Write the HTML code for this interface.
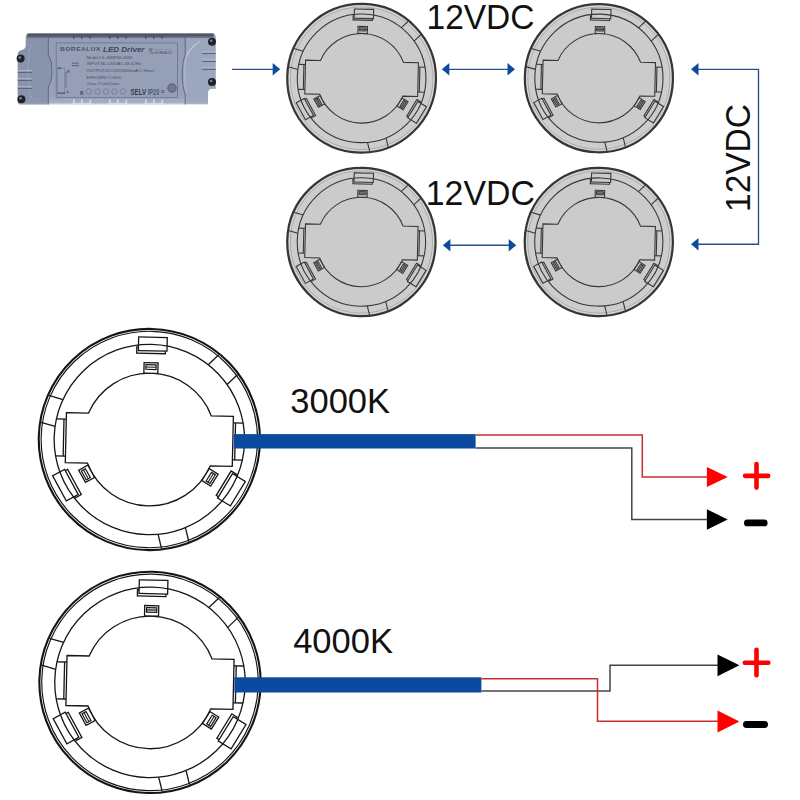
<!DOCTYPE html>
<html><head><meta charset="utf-8"><title>LED puck wiring</title>
<style>
html,body{margin:0;padding:0;background:#fff;width:800px;height:800px;overflow:hidden}
svg{display:block}
text{font-family:"Liberation Sans",sans-serif}
</style></head><body>
<svg width="800" height="800" viewBox="0 0 800 800">
<g>
<defs>
<linearGradient id="dg" x1="0" y1="0" x2="0" y2="1">
<stop offset="0" stop-color="#6f7a90"/>
<stop offset="0.07" stop-color="#929cb4"/>
<stop offset="0.9" stop-color="#98a2ba"/>
<stop offset="1" stop-color="#aab5cc"/>
</linearGradient>
</defs>
<path d="M29 33.6 H212 Q215.6 33.6 215.6 37.5 V88.8 H212 Q208 88.8 208 93 V104.2 H20.5 Q17.8 104.2 17.8 101.5 V54 Q17.8 51.6 20 50.8 L23.8 49.2 Q25.8 48.2 25.8 45.5 V37.8 Q25.8 33.6 29 33.6 Z" fill="url(#dg)"/>
<path d="M20 103.6 H207.5" stroke="#c5cce0" stroke-width="1.2" opacity="0.8"/>
<path d="M25.8 37.8 V45.5 Q25.8 48.2 23.8 49.2 L20 50.8 Q17.8 51.6 17.8 54 V101.8 Q17.8 104.6 20.5 104.6 H48.3 V87 C53.2 80 53.2 62 48.3 55 V35 H29 Q25.8 35 25.8 37.8 Z" fill="#838ea6" opacity="0.7"/>
<path d="M185.2 35 V55 C181.3 63 181.3 86 185.2 94 V104 H208 V93 Q208 88.8 212 88.8 H215.6 V37.5 Q215.6 35 212 35 Z" fill="#9ea8bf" opacity="0.75"/>
<path d="M27.5 35.2 H213.5" stroke="#4f5563" stroke-width="3.2" opacity="0.95"/>
<path d="M27.5 37.4 H213.5" stroke="#626a7b" stroke-width="1.2" opacity="0.8"/>
<path d="M48.3 35 V55 C53.2 62 53.2 80 48.3 87 V104.5" fill="none" stroke="#5a6478" stroke-width="0.9"/>
<path d="M185.2 35 V55 C181.3 63 181.3 86 185.2 94 V104.5" fill="none" stroke="#5a6478" stroke-width="0.9"/>
<path d="M31 44 C27 60 27 90 33 101" fill="none" stroke="#9ba7c0" stroke-width="0.8"/>
<path d="M199.5 41.5 C193 46 187.5 52 186.3 57" fill="none" stroke="#c3cadb" stroke-width="1.1"/>
<path d="M186.8 56 C184 64 184 84 187 93" fill="none" stroke="#b4bdd2" stroke-width="0.9"/>
<rect x="56.2" y="43" width="121.3" height="54.5" fill="#959fb6" stroke="#6f7890" stroke-width="0.9"/>
<g stroke="#aab4ca" stroke-width="1.4">
<path d="M17.8 70.6 H32 M17.8 78.6 H32 M17.8 86.6 H32"/>
<path d="M202.4 51.6 H215.6 M202.4 59.5 H215.6 M202.4 67.4 H215.6"/>
</g>
<g stroke="#58627a" stroke-width="1">
<path d="M17.8 72.4 H32 M17.8 80.4 H32 M17.8 88.4 H32"/>
<path d="M202.4 53.6 H215.6 M202.4 61.5 H215.6 M202.4 69.4 H215.6"/>
</g>
<g fill="#485166">
<rect x="72" y="35" width="19.5" height="1.2"/><rect x="73" y="35" width="1.3" height="4"/><rect x="81" y="35" width="1.3" height="4"/><rect x="89.5" y="35" width="1.3" height="4"/>
<rect x="108" y="35" width="19.5" height="1.2"/><rect x="109" y="35" width="1.3" height="4"/><rect x="117" y="35" width="1.3" height="4"/><rect x="125.5" y="35" width="1.3" height="4"/>
<rect x="144" y="35" width="19.5" height="1.2"/><rect x="145" y="35" width="1.3" height="4"/><rect x="153" y="35" width="1.3" height="4"/><rect x="161.5" y="35" width="1.3" height="4"/>
</g>
<g fill="#d5dbe8">
<rect x="72" y="103" width="19.5" height="1.6"/><rect x="73" y="99.5" width="1.6" height="5"/><rect x="81" y="99.5" width="1.6" height="5"/><rect x="89.5" y="99.5" width="1.6" height="5"/>
<rect x="108" y="103" width="19.5" height="1.6"/><rect x="109" y="99.5" width="1.6" height="5"/><rect x="117" y="99.5" width="1.6" height="5"/><rect x="125.5" y="99.5" width="1.6" height="5"/>
<rect x="144" y="103" width="19.5" height="1.6"/><rect x="145" y="99.5" width="1.6" height="5"/><rect x="153" y="99.5" width="1.6" height="5"/><rect x="161.5" y="99.5" width="1.6" height="5"/>
</g>
<g fill="#1f2228">
<circle cx="20.6" cy="58.6" r="4"/><circle cx="21.4" cy="99.3" r="4"/>
<circle cx="212" cy="41.8" r="4"/><circle cx="212" cy="82" r="4"/>
</g>
<g fill="#7d8290">
<circle cx="19.8" cy="57.6" r="1.3"/><circle cx="20.6" cy="98.3" r="1.3"/>
<circle cx="211.2" cy="40.8" r="1.3"/><circle cx="211.2" cy="81" r="1.3"/>
</g>
<g font-family="Liberation Sans, sans-serif" fill="#3d455a">
<text x="60" y="51.2" font-size="5.5" font-weight="bold" textLength="41" lengthAdjust="spacingAndGlyphs" letter-spacing="0.5" fill="#4a5268">BOREALUX</text>
<text x="103" y="51.5" font-size="7.6" font-weight="bold" font-style="italic" textLength="41.5" lengthAdjust="spacingAndGlyphs">LED Driver</text>
</g>
<g font-family="Liberation Sans, sans-serif" fill="#454e65" font-size="4.4">
<text x="86.5" y="59" textLength="45.5" lengthAdjust="spacingAndGlyphs">Model:LS-JSMP60-40W</text>
<text x="86.5" y="65" textLength="55" lengthAdjust="spacingAndGlyphs">INPUT:90-130VAC   48-62Hz</text>
<text x="86.5" y="72" textLength="67.5" lengthAdjust="spacingAndGlyphs">OUTPUT:DC12V/3000mA     C Hinet</text>
<text x="86.5" y="78.5" textLength="35" lengthAdjust="spacingAndGlyphs">EFFICIENCY&gt;85%</text>
<text x="86.5" y="84.6" textLength="33" lengthAdjust="spacingAndGlyphs">Class 2 Led Driver</text>
<text x="149" y="50.8" font-size="3" textLength="22" lengthAdjust="spacingAndGlyphs">M~~~~ ~~~</text>
<text x="149" y="53.8" font-size="3" textLength="23" lengthAdjust="spacingAndGlyphs">The BOREALUX</text>
</g>
<g fill="#5d667c">
<rect x="72" y="62.6" width="6.7" height="1.1"/><rect x="72" y="65" width="6.7" height="1.1"/>
<rect x="57.5" y="68" width="7" height="25.5" fill="#97a2ba" stroke="#6b7590" stroke-width="0.5"/>
<rect x="57.5" y="67.6" width="4" height="1.2" fill="#4d5263"/>
<rect x="57.5" y="92.5" width="8" height="1.2" fill="#4d5263"/>
<rect x="65.6" y="72" width="0.8" height="16"/>
</g>
<g font-family="Liberation Sans, sans-serif" fill="#3d455a">
<text x="67" y="72.8" font-size="3.6" font-weight="bold">H</text>
<text x="67" y="92.5" font-size="3.6" font-weight="bold">L</text>
<text x="80" y="94.6" font-size="5.5" font-weight="bold">K</text>
<text x="130.5" y="94.5" font-size="9.4" font-weight="bold" textLength="15.5" lengthAdjust="spacingAndGlyphs" fill="#353c50">SELV</text>
<text x="147.8" y="94.5" font-size="9.2" font-weight="bold" textLength="11.5" lengthAdjust="spacingAndGlyphs" fill="#4f586e">IP20</text>
<text x="160.5" y="94.3" font-size="7" font-weight="bold" fill="#3d455a">&#8801;</text>
</g>
<g fill="none" stroke="#6f7a92" stroke-width="0.8">
<circle cx="89" cy="91.5" r="2.7"/><circle cx="97.5" cy="91.5" r="2.7"/><circle cx="106" cy="91.5" r="2.7"/><circle cx="114.5" cy="91.5" r="2.7"/><circle cx="123" cy="91.5" r="2.7"/>
</g>
<circle cx="172" cy="88" r="4.2" fill="#6f7a92" stroke="#4d566c" stroke-width="0.9"/>
</g>
<g transform="translate(361.6 78.3) scale(0.6760) rotate(1.3)" stroke="#363636" stroke-width="1.6" fill="#cbcbcb" stroke-linejoin="miter">
<circle r="110" fill="#cdcdcd" stroke-width="3.3"/>
<circle r="106.9" fill="none" stroke="#dadada" stroke-width="1.4"/>
<circle r="105.6" fill="none" stroke="#9a9a9a" stroke-width="1.0"/>
<line x1="57.16" y1="-76.13" x2="67.46" y2="-86.38"/>
<line x1="76.43" y1="-56.76" x2="86.73" y2="-67.01"/>
<line x1="38.04" y1="87.27" x2="41.81" y2="101.31"/>
<line x1="10.86" y1="94.58" x2="14.63" y2="108.62"/>
<line x1="-94.57" y1="-10.94" x2="-108.61" y2="-14.72"/>
<line x1="-87.3" y1="-37.96" x2="-101.34" y2="-41.74"/>
<circle r="95.2" fill="#cbcbcb" stroke="none"/>
<g transform="rotate(0)"><rect x="-14.6" y="-92.3" width="28.6" height="6.2"/><rect x="-13" y="-102.3" width="28.6" height="13.6"/></g>
<g transform="rotate(240.2)"><rect x="-15.9" y="-92.3" width="28.6" height="6.2"/><rect x="-14.3" y="-102.3" width="28.6" height="13.6"/></g>
<g transform="rotate(120.2)"><rect x="-15.9" y="-92.4" width="28.6" height="6.2"/><rect x="-14.3" y="-103.8" width="28.6" height="15"/></g>
<circle r="95.2" fill="none"/>
<path d="M-93.39 -18.5 L-83.5 -18.5 M-93.39 18.5 L-83.5 18.5" fill="none"/>
<line x1="-85.8" y1="-18.5" x2="-85.8" y2="18.5"/>
<path d="M93.39 -18.5 L83.5 -18.5 M93.39 18.5 L83.5 18.5" fill="none"/>
<line x1="85.8" y1="-18.5" x2="85.8" y2="18.5"/>
<path d="M-83.5 -25 L-61.41 -25 A66.3 66.3 0 0 1 61.41 -25 L83.5 -25 L83.5 25 L61.41 25 A66.3 66.3 0 0 1 -61.41 25 L-83.5 25 Z"/>
<g transform="rotate(0)">
<rect x="-7" y="-76.7" width="14" height="10.4"/>
<rect x="-5.1" y="-74.7" width="10.2" height="4.6" stroke-width="1.44" fill="#9a9a9a"/>
<line x1="-5.1" y1="-72.4" x2="5.1" y2="-72.4" stroke-width="1.28"/>
</g>
<g transform="rotate(240)">
<rect x="-7" y="-76.7" width="14" height="10.4"/>
<rect x="-5.1" y="-74.7" width="10.2" height="4.6" stroke-width="1.44" fill="#9a9a9a"/>
<line x1="-5.1" y1="-72.4" x2="5.1" y2="-72.4" stroke-width="1.28"/>
</g>
<g transform="rotate(120.7)">
<rect x="-7" y="-76.7" width="14" height="10.4"/>
<rect x="-5.1" y="-74.7" width="10.2" height="4.6" stroke-width="1.44" fill="#9a9a9a"/>
<line x1="-5.1" y1="-72.4" x2="5.1" y2="-72.4" stroke-width="1.28"/>
</g>
</g>
<g transform="translate(598.9 78.2) scale(0.6733) rotate(1.3)" stroke="#363636" stroke-width="1.6" fill="#cbcbcb" stroke-linejoin="miter">
<circle r="110" fill="#cdcdcd" stroke-width="3.3"/>
<circle r="106.9" fill="none" stroke="#dadada" stroke-width="1.4"/>
<circle r="105.6" fill="none" stroke="#9a9a9a" stroke-width="1.0"/>
<line x1="57.16" y1="-76.13" x2="67.46" y2="-86.38"/>
<line x1="76.43" y1="-56.76" x2="86.73" y2="-67.01"/>
<line x1="38.04" y1="87.27" x2="41.81" y2="101.31"/>
<line x1="10.86" y1="94.58" x2="14.63" y2="108.62"/>
<line x1="-94.57" y1="-10.94" x2="-108.61" y2="-14.72"/>
<line x1="-87.3" y1="-37.96" x2="-101.34" y2="-41.74"/>
<circle r="95.2" fill="#cbcbcb" stroke="none"/>
<g transform="rotate(0)"><rect x="-14.6" y="-92.3" width="28.6" height="6.2"/><rect x="-13" y="-102.3" width="28.6" height="13.6"/></g>
<g transform="rotate(240.2)"><rect x="-15.9" y="-92.3" width="28.6" height="6.2"/><rect x="-14.3" y="-102.3" width="28.6" height="13.6"/></g>
<g transform="rotate(120.2)"><rect x="-15.9" y="-92.4" width="28.6" height="6.2"/><rect x="-14.3" y="-103.8" width="28.6" height="15"/></g>
<circle r="95.2" fill="none"/>
<path d="M-93.39 -18.5 L-83.5 -18.5 M-93.39 18.5 L-83.5 18.5" fill="none"/>
<line x1="-85.8" y1="-18.5" x2="-85.8" y2="18.5"/>
<path d="M93.39 -18.5 L83.5 -18.5 M93.39 18.5 L83.5 18.5" fill="none"/>
<line x1="85.8" y1="-18.5" x2="85.8" y2="18.5"/>
<path d="M-83.5 -25 L-61.41 -25 A66.3 66.3 0 0 1 61.41 -25 L83.5 -25 L83.5 25 L61.41 25 A66.3 66.3 0 0 1 -61.41 25 L-83.5 25 Z"/>
<g transform="rotate(0)">
<rect x="-7" y="-76.7" width="14" height="10.4"/>
<rect x="-5.1" y="-74.7" width="10.2" height="4.6" stroke-width="1.44" fill="#9a9a9a"/>
<line x1="-5.1" y1="-72.4" x2="5.1" y2="-72.4" stroke-width="1.28"/>
</g>
<g transform="rotate(240)">
<rect x="-7" y="-76.7" width="14" height="10.4"/>
<rect x="-5.1" y="-74.7" width="10.2" height="4.6" stroke-width="1.44" fill="#9a9a9a"/>
<line x1="-5.1" y1="-72.4" x2="5.1" y2="-72.4" stroke-width="1.28"/>
</g>
<g transform="rotate(120.7)">
<rect x="-7" y="-76.7" width="14" height="10.4"/>
<rect x="-5.1" y="-74.7" width="10.2" height="4.6" stroke-width="1.44" fill="#9a9a9a"/>
<line x1="-5.1" y1="-72.4" x2="5.1" y2="-72.4" stroke-width="1.28"/>
</g>
</g>
<g transform="translate(361.4 242) scale(0.6742) rotate(1.3)" stroke="#363636" stroke-width="1.6" fill="#cbcbcb" stroke-linejoin="miter">
<circle r="110" fill="#cdcdcd" stroke-width="3.3"/>
<circle r="106.9" fill="none" stroke="#dadada" stroke-width="1.4"/>
<circle r="105.6" fill="none" stroke="#9a9a9a" stroke-width="1.0"/>
<line x1="57.16" y1="-76.13" x2="67.46" y2="-86.38"/>
<line x1="76.43" y1="-56.76" x2="86.73" y2="-67.01"/>
<line x1="38.04" y1="87.27" x2="41.81" y2="101.31"/>
<line x1="10.86" y1="94.58" x2="14.63" y2="108.62"/>
<line x1="-94.57" y1="-10.94" x2="-108.61" y2="-14.72"/>
<line x1="-87.3" y1="-37.96" x2="-101.34" y2="-41.74"/>
<circle r="95.2" fill="#cbcbcb" stroke="none"/>
<g transform="rotate(0)"><rect x="-14.6" y="-92.3" width="28.6" height="6.2"/><rect x="-13" y="-102.3" width="28.6" height="13.6"/></g>
<g transform="rotate(240.2)"><rect x="-15.9" y="-92.3" width="28.6" height="6.2"/><rect x="-14.3" y="-102.3" width="28.6" height="13.6"/></g>
<g transform="rotate(120.2)"><rect x="-15.9" y="-92.4" width="28.6" height="6.2"/><rect x="-14.3" y="-103.8" width="28.6" height="15"/></g>
<circle r="95.2" fill="none"/>
<path d="M-93.39 -18.5 L-83.5 -18.5 M-93.39 18.5 L-83.5 18.5" fill="none"/>
<line x1="-85.8" y1="-18.5" x2="-85.8" y2="18.5"/>
<path d="M93.39 -18.5 L83.5 -18.5 M93.39 18.5 L83.5 18.5" fill="none"/>
<line x1="85.8" y1="-18.5" x2="85.8" y2="18.5"/>
<path d="M-83.5 -25 L-61.41 -25 A66.3 66.3 0 0 1 61.41 -25 L83.5 -25 L83.5 25 L61.41 25 A66.3 66.3 0 0 1 -61.41 25 L-83.5 25 Z"/>
<g transform="rotate(0)">
<rect x="-7" y="-76.7" width="14" height="10.4"/>
<rect x="-5.1" y="-74.7" width="10.2" height="4.6" stroke-width="1.44" fill="#9a9a9a"/>
<line x1="-5.1" y1="-72.4" x2="5.1" y2="-72.4" stroke-width="1.28"/>
</g>
<g transform="rotate(240)">
<rect x="-7" y="-76.7" width="14" height="10.4"/>
<rect x="-5.1" y="-74.7" width="10.2" height="4.6" stroke-width="1.44" fill="#9a9a9a"/>
<line x1="-5.1" y1="-72.4" x2="5.1" y2="-72.4" stroke-width="1.28"/>
</g>
<g transform="rotate(120.7)">
<rect x="-7" y="-76.7" width="14" height="10.4"/>
<rect x="-5.1" y="-74.7" width="10.2" height="4.6" stroke-width="1.44" fill="#9a9a9a"/>
<line x1="-5.1" y1="-72.4" x2="5.1" y2="-72.4" stroke-width="1.28"/>
</g>
</g>
<g transform="translate(598.8 242) scale(0.6733) rotate(1.3)" stroke="#363636" stroke-width="1.6" fill="#cbcbcb" stroke-linejoin="miter">
<circle r="110" fill="#cdcdcd" stroke-width="3.3"/>
<circle r="106.9" fill="none" stroke="#dadada" stroke-width="1.4"/>
<circle r="105.6" fill="none" stroke="#9a9a9a" stroke-width="1.0"/>
<line x1="57.16" y1="-76.13" x2="67.46" y2="-86.38"/>
<line x1="76.43" y1="-56.76" x2="86.73" y2="-67.01"/>
<line x1="38.04" y1="87.27" x2="41.81" y2="101.31"/>
<line x1="10.86" y1="94.58" x2="14.63" y2="108.62"/>
<line x1="-94.57" y1="-10.94" x2="-108.61" y2="-14.72"/>
<line x1="-87.3" y1="-37.96" x2="-101.34" y2="-41.74"/>
<circle r="95.2" fill="#cbcbcb" stroke="none"/>
<g transform="rotate(0)"><rect x="-14.6" y="-92.3" width="28.6" height="6.2"/><rect x="-13" y="-102.3" width="28.6" height="13.6"/></g>
<g transform="rotate(240.2)"><rect x="-15.9" y="-92.3" width="28.6" height="6.2"/><rect x="-14.3" y="-102.3" width="28.6" height="13.6"/></g>
<g transform="rotate(120.2)"><rect x="-15.9" y="-92.4" width="28.6" height="6.2"/><rect x="-14.3" y="-103.8" width="28.6" height="15"/></g>
<circle r="95.2" fill="none"/>
<path d="M-93.39 -18.5 L-83.5 -18.5 M-93.39 18.5 L-83.5 18.5" fill="none"/>
<line x1="-85.8" y1="-18.5" x2="-85.8" y2="18.5"/>
<path d="M93.39 -18.5 L83.5 -18.5 M93.39 18.5 L83.5 18.5" fill="none"/>
<line x1="85.8" y1="-18.5" x2="85.8" y2="18.5"/>
<path d="M-83.5 -25 L-61.41 -25 A66.3 66.3 0 0 1 61.41 -25 L83.5 -25 L83.5 25 L61.41 25 A66.3 66.3 0 0 1 -61.41 25 L-83.5 25 Z"/>
<g transform="rotate(0)">
<rect x="-7" y="-76.7" width="14" height="10.4"/>
<rect x="-5.1" y="-74.7" width="10.2" height="4.6" stroke-width="1.44" fill="#9a9a9a"/>
<line x1="-5.1" y1="-72.4" x2="5.1" y2="-72.4" stroke-width="1.28"/>
</g>
<g transform="rotate(240)">
<rect x="-7" y="-76.7" width="14" height="10.4"/>
<rect x="-5.1" y="-74.7" width="10.2" height="4.6" stroke-width="1.44" fill="#9a9a9a"/>
<line x1="-5.1" y1="-72.4" x2="5.1" y2="-72.4" stroke-width="1.28"/>
</g>
<g transform="rotate(120.7)">
<rect x="-7" y="-76.7" width="14" height="10.4"/>
<rect x="-5.1" y="-74.7" width="10.2" height="4.6" stroke-width="1.44" fill="#9a9a9a"/>
<line x1="-5.1" y1="-72.4" x2="5.1" y2="-72.4" stroke-width="1.28"/>
</g>
</g>
<g stroke="#2c4f8a" stroke-width="1.35" fill="none">
<line x1="232" y1="69.3" x2="273" y2="69.3"/>
<line x1="448" y1="69.3" x2="508" y2="69.3"/>
<line x1="449" y1="245.2" x2="509" y2="245.2"/>
<path d="M697 69.3 H758.5 V244.2 H697"/>
</g>
<path d="M280.2 69.3 L272.7 63 L272.7 75.6 Z" fill="#0c4a9c"/>
<path d="M441.8 69.3 L449.3 63 L449.3 75.6 Z" fill="#0c4a9c"/>
<path d="M515 69.3 L507.5 63 L507.5 75.6 Z" fill="#0c4a9c"/>
<path d="M442.9 245.2 L450.4 238.9 L450.4 251.5 Z" fill="#0c4a9c"/>
<path d="M516.2 245.2 L508.7 238.9 L508.7 251.5 Z" fill="#0c4a9c"/>
<path d="M691 69.3 L698.5 63 L698.5 75.6 Z" fill="#0c4a9c"/>
<path d="M691 244.2 L698.5 237.9 L698.5 250.5 Z" fill="#0c4a9c"/>
<g font-family="Liberation Sans, sans-serif" fill="#111">
<text x="426.5" y="29.2" font-size="34.5" textLength="108" lengthAdjust="spacingAndGlyphs">12VDC</text>
<text x="425.8" y="205.2" font-size="34.5" textLength="109" lengthAdjust="spacingAndGlyphs">12VDC</text>
<text transform="translate(749.7 212) rotate(-90)" x="0" y="0" font-size="34.5" textLength="108" lengthAdjust="spacingAndGlyphs">12VDC</text>
</g>
<g transform="translate(149.35 439.5) scale(1.0000) rotate(1.3)" stroke="#151515" stroke-width="1.3" fill="#ffffff" stroke-linejoin="miter">
<circle r="110.6" fill="#ffffff" stroke-width="2.1"/>
<circle r="108.2" fill="none" stroke-width="1.15"/>
<line x1="57.16" y1="-76.13" x2="67.46" y2="-86.38"/>
<line x1="76.43" y1="-56.76" x2="86.73" y2="-67.01"/>
<line x1="38.04" y1="87.27" x2="41.81" y2="101.31"/>
<line x1="10.86" y1="94.58" x2="14.63" y2="108.62"/>
<line x1="-94.57" y1="-10.94" x2="-108.61" y2="-14.72"/>
<line x1="-87.3" y1="-37.96" x2="-101.34" y2="-41.74"/>
<circle r="95.2" fill="#ffffff" stroke="none"/>
<g transform="rotate(0)"><rect x="-14.6" y="-92.3" width="28.6" height="6.2"/><rect x="-13" y="-102.3" width="28.6" height="13.6"/></g>
<g transform="rotate(240.2)"><rect x="-15.9" y="-92.3" width="28.6" height="6.2"/><rect x="-14.3" y="-102.3" width="28.6" height="13.6"/></g>
<g transform="rotate(120.2)"><rect x="-15.9" y="-92.4" width="28.6" height="6.2"/><rect x="-14.3" y="-103.8" width="28.6" height="15"/></g>
<circle r="95.2" fill="none"/>
<path d="M-93.39 -18.5 L-83.5 -18.5 M-93.39 18.5 L-83.5 18.5" fill="none"/>
<line x1="-85.8" y1="-18.5" x2="-85.8" y2="18.5"/>
<path d="M93.39 -18.5 L83.5 -18.5 M93.39 18.5 L83.5 18.5" fill="none"/>
<line x1="85.8" y1="-18.5" x2="85.8" y2="18.5"/>
<path d="M-83.5 -25 L-61.41 -25 A66.3 66.3 0 0 1 61.41 -25 L83.5 -25 L83.5 25 L61.41 25 A66.3 66.3 0 0 1 -61.41 25 L-83.5 25 Z"/>
<g transform="rotate(0)">
<rect x="-7" y="-76.7" width="14" height="10.4"/>
<rect x="-5.1" y="-74.7" width="10.2" height="4.6" stroke-width="1.17" fill="#fff"/>
<line x1="-5.1" y1="-72.4" x2="5.1" y2="-72.4" stroke-width="1.04"/>
</g>
<g transform="rotate(240)">
<rect x="-7" y="-76.7" width="14" height="10.4"/>
<rect x="-5.1" y="-74.7" width="10.2" height="4.6" stroke-width="1.17" fill="#fff"/>
<line x1="-5.1" y1="-72.4" x2="5.1" y2="-72.4" stroke-width="1.04"/>
</g>
<g transform="rotate(120.7)">
<rect x="-7" y="-76.7" width="14" height="10.4"/>
<rect x="-5.1" y="-74.7" width="10.2" height="4.6" stroke-width="1.17" fill="#fff"/>
<line x1="-5.1" y1="-72.4" x2="5.1" y2="-72.4" stroke-width="1.04"/>
</g>
</g>
<g transform="translate(150 682.4) scale(1.0004) rotate(1.3)" stroke="#151515" stroke-width="1.3" fill="#ffffff" stroke-linejoin="miter">
<circle r="110.6" fill="#ffffff" stroke-width="2.1"/>
<circle r="108.2" fill="none" stroke-width="1.15"/>
<line x1="57.16" y1="-76.13" x2="67.46" y2="-86.38"/>
<line x1="76.43" y1="-56.76" x2="86.73" y2="-67.01"/>
<line x1="38.04" y1="87.27" x2="41.81" y2="101.31"/>
<line x1="10.86" y1="94.58" x2="14.63" y2="108.62"/>
<line x1="-94.57" y1="-10.94" x2="-108.61" y2="-14.72"/>
<line x1="-87.3" y1="-37.96" x2="-101.34" y2="-41.74"/>
<circle r="95.2" fill="#ffffff" stroke="none"/>
<g transform="rotate(0)"><rect x="-14.6" y="-92.3" width="28.6" height="6.2"/><rect x="-13" y="-102.3" width="28.6" height="13.6"/></g>
<g transform="rotate(240.2)"><rect x="-15.9" y="-92.3" width="28.6" height="6.2"/><rect x="-14.3" y="-102.3" width="28.6" height="13.6"/></g>
<g transform="rotate(120.2)"><rect x="-15.9" y="-92.4" width="28.6" height="6.2"/><rect x="-14.3" y="-103.8" width="28.6" height="15"/></g>
<circle r="95.2" fill="none"/>
<path d="M-93.39 -18.5 L-83.5 -18.5 M-93.39 18.5 L-83.5 18.5" fill="none"/>
<line x1="-85.8" y1="-18.5" x2="-85.8" y2="18.5"/>
<path d="M93.39 -18.5 L83.5 -18.5 M93.39 18.5 L83.5 18.5" fill="none"/>
<line x1="85.8" y1="-18.5" x2="85.8" y2="18.5"/>
<path d="M-83.5 -25 L-61.41 -25 A66.3 66.3 0 0 1 61.41 -25 L83.5 -25 L83.5 25 L61.41 25 A66.3 66.3 0 0 1 -61.41 25 L-83.5 25 Z"/>
<g transform="rotate(0)">
<rect x="-7" y="-76.7" width="14" height="10.4"/>
<rect x="-5.1" y="-74.7" width="10.2" height="4.6" stroke-width="1.17" fill="#fff"/>
<line x1="-5.1" y1="-72.4" x2="5.1" y2="-72.4" stroke-width="1.04"/>
</g>
<g transform="rotate(240)">
<rect x="-7" y="-76.7" width="14" height="10.4"/>
<rect x="-5.1" y="-74.7" width="10.2" height="4.6" stroke-width="1.17" fill="#fff"/>
<line x1="-5.1" y1="-72.4" x2="5.1" y2="-72.4" stroke-width="1.04"/>
</g>
<g transform="rotate(120.7)">
<rect x="-7" y="-76.7" width="14" height="10.4"/>
<rect x="-5.1" y="-74.7" width="10.2" height="4.6" stroke-width="1.17" fill="#fff"/>
<line x1="-5.1" y1="-72.4" x2="5.1" y2="-72.4" stroke-width="1.04"/>
</g>
</g>
<rect x="233.8" y="434.1" width="241.8" height="14.4" fill="#0b4a9f"/>
<path d="M475.6 448 H631.8 V519.4 H708" fill="none" stroke="#454545" stroke-width="1.5"/>
<path d="M475.6 435 H642.3 V477 H708" fill="none" stroke="#c8302e" stroke-width="1.5"/>
<path d="M706.9 466.9 L727.7 477 L706.9 487.1 Z" fill="#ff0000"/>
<path d="M706.9 509.2 L727.7 519.4 L706.9 529.7 Z" fill="#000"/>
<path d="M745.1 475.85 H768.2 M756.5 464.1 V487.6" stroke="#ff0000" stroke-width="4.6" stroke-linecap="round" fill="none"/>
<path d="M747.4 522.9 H764.2" stroke="#000" stroke-width="6.8" stroke-linecap="round" fill="none"/>
<rect x="234.4" y="677.3" width="247" height="15.2" fill="#0b4a9f"/>
<path d="M481.4 691.1 H610 V665.3 H718" fill="none" stroke="#454545" stroke-width="1.5"/>
<path d="M481.4 678.7 H597.5 V721.3 H718" fill="none" stroke="#c8302e" stroke-width="1.5"/>
<path d="M717.5 654.4 L739.4 665.3 L717.5 676.2 Z" fill="#000"/>
<path d="M717.5 710.6 L739.4 721.5 L717.5 732.4 Z" fill="#ff0000"/>
<path d="M744.8 662.8 H768.3 M756.5 649.8 V675.2" stroke="#ff0000" stroke-width="4.6" stroke-linecap="round" fill="none"/>
<path d="M746.4 724.5 H764.6" stroke="#000" stroke-width="6.8" stroke-linecap="round" fill="none"/>
<g font-family="Liberation Sans, sans-serif" fill="#111">
<text x="290.3" y="413.2" font-size="34.5">3000K</text>
<text x="293.2" y="653.2" font-size="34.5">4000K</text>
</g>
</svg>
</body></html>
